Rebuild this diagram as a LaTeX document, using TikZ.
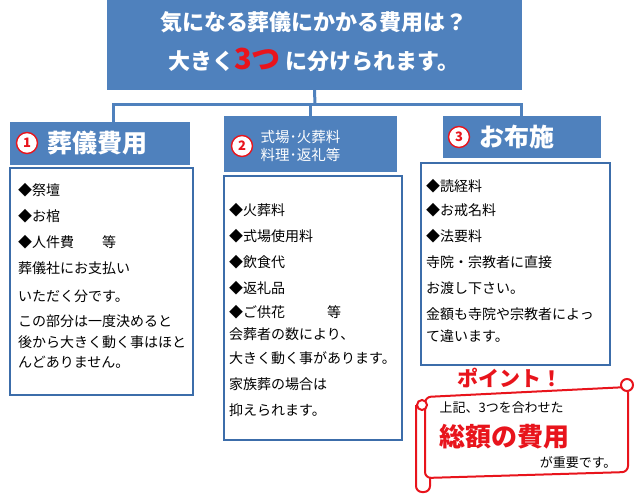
\documentclass[tikz,border=0pt]{standalone}
\usepackage{fontspec}
\newfontfamily\jp{Noto Sans CJK JP}
\usetikzlibrary{positioning}
\definecolor{headblue}{HTML}{4F81BD}
\definecolor{lineblue}{HTML}{3C6DAA}
\definecolor{pointred}{HTML}{E8141C}
\begin{document}
\begin{tikzpicture}[x=1pt, y=-1pt,
        head/.style={fill=headblue, inner sep=0pt},
        body/.style={draw=lineblue, line width=1.6pt, fill=white},
        num/.style={circle, draw=pointred, fill=white, line width=1.4pt, minimum size=21pt, inner sep=0pt, text=pointred, font=\jp\bfseries\fontsize{13}{13}\selectfont},
        item/.style={anchor=west, inner sep=0pt, font=\jp\fontsize{14}{14}\selectfont},
        link/.style={draw=headblue, line width=3pt}]
      \useasboundingbox (0,0) rectangle (641,501);
      % Title
      \node[head, minimum width=415pt, minimum height=90pt] (title) at (314.5,45) {};
      \node[text=white, font=\jp\bfseries\fontsize{22}{22}\selectfont] at (314,22) {気になる葬儀にかかる費用は？};
      \node[text=white, font=\jp\bfseries\fontsize{22}{22}\selectfont] at (314,60) {大きく{\color{pointred}\fontsize{29}{29}\selectfont 3つ} に分けられます。};
      % Connectors
      \coordinate (split) at (315,104);
      \draw[link] (title.south) -- (split);
      \draw[link] (113,122) |- (521,104) -- (521,116);
      \draw[link] (310,104) -- (310,116);
      % Headings
      \node[head, minimum width=180pt, minimum height=43pt] (h1) at (100,143.5) {};
      \node[head, minimum width=173pt, minimum height=56pt] (h2) at (310.5,144) {};
      \node[head, minimum width=158pt, minimum height=42pt] (h3) at (522,137) {};
      \node[num] (n1) at (27,143) {1};
      \node[num] (n2) at (242,146) {2};
      \node[num] (n3) at (459,137) {3};
      \node[text=white, font=\jp\bfseries\fontsize{25}{25}\selectfont, right=6pt of n1] {葬儀費用};
      \node[text=white, align=left, font=\jp\fontsize{14.5}{18}\selectfont, right=4pt of n2] {式場･火葬料\\料理･返礼等};
      \node[text=white, font=\jp\bfseries\fontsize{25}{25}\selectfont, right=6pt of n3] {お布施};
      % Bodies
      \draw[body] (10,168) rectangle (193,395);
      \draw[body] (224,176) rectangle (402,440);
      \draw[body] (421,163) rectangle (610,365);
      \foreach \t/\y in {◆祭壇/190, ◆お棺/216, ◆人件費\quad\quad 等/242, 葬儀社にお支払い/268, いただく分です。/296, この部分は一度決めると/321, 後から大きく動く事はほと/342, んどありません。/362}
        \node[item] at (18,\y) {\t};
      \foreach \t/\y in {◆火葬料/210, ◆式場使用料/236, ◆飲食代/262, ◆返礼品/288, ◆ご供花\quad\quad\quad 等/312, 会葬者の数により、/334, 大きく動く事があります。/358, 家族葬の場合は/384, 抑えられます。/410}
        \node[item] at (229,\y) {\t};
      \foreach \t/\y in {◆読経料/186, ◆お戒名料/210, ◆法要料/236, 寺院・宗教者に直接/262, お渡し下さい。/288, 金額も寺院や宗教者によっ/314, て違います。/336}
        \node[item] at (426,\y) {\t};
      % Point scroll
      \node[text=pointred, font=\jp\bfseries\fontsize{21}{21}\selectfont] (point) at (510,378) {ポイント！};
      \draw[pointred, line width=2pt, fill=white, rounded corners=6pt]
        (425,397) -- (628,387) -- (628,472) -- (425,478) -- cycle;
      \draw[pointred, line width=2pt, fill=white] (627,385) circle (6pt);
      \draw[pointred, line width=2pt, fill=white] (422,405) circle (5pt);
      \draw[pointred, line width=2pt, rounded corners=6pt] (416,405) -- (416,492) -- (430,492) -- (430,478);
      \node[anchor=west, font=\jp\fontsize{13}{13}\selectfont] (memo) at (436,408) {上記、3つを合わせた};
      \node[anchor=west, text=pointred, font=\jp\bfseries\fontsize{26}{26}\selectfont] (total) at (436,437) {総額の費用};
      \node[anchor=east, font=\jp\fontsize{13}{13}\selectfont] (need) at (620,463) {が重要です。};
\end{tikzpicture}
\end{document}
